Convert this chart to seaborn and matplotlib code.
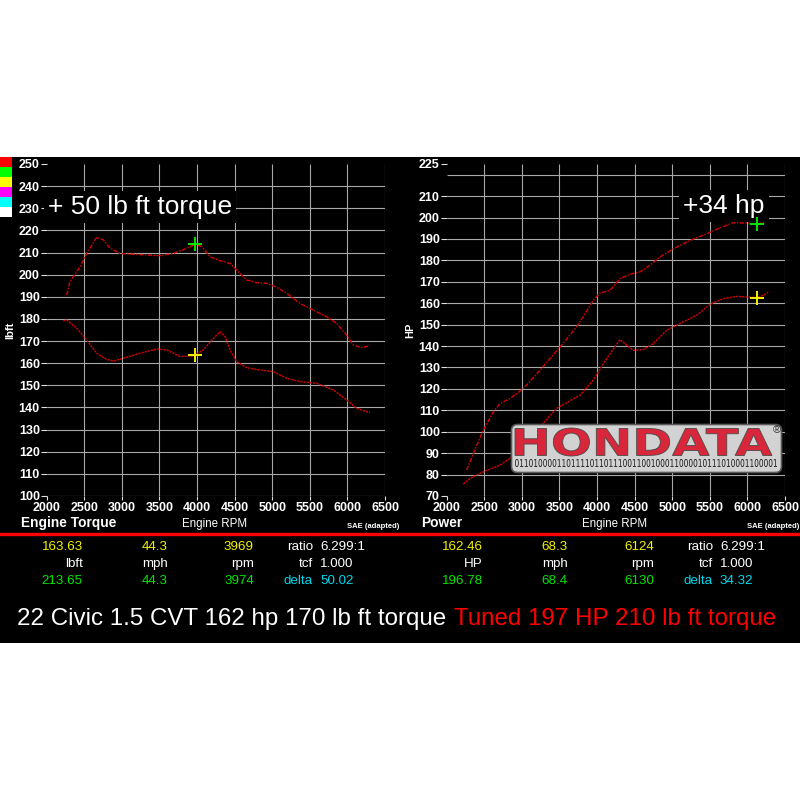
import matplotlib
matplotlib.use("Agg")
import pandas as pd
import matplotlib.pyplot as plt
import seaborn as sns
from matplotlib.patches import Rectangle, FancyBboxPatch, PathPatch
from matplotlib.textpath import TextPath
from matplotlib.font_manager import FontProperties
from matplotlib.transforms import Affine2D

# dyno runs
tq_tuned_rpm = [2266, 2310, 2443, 2532, 2665, 2754, 2842, 2975, 3153, 3507, 3685, 3862, 3974, 4062,
                4172, 4305, 4438, 4527, 4660, 4793, 4926, 5059, 5192, 5369, 5547, 5724, 5857, 5990,
                6079, 6167, 6256, 6300]
tq_tuned = [190.8, 196.8, 203.6, 209.6, 216.9, 215.7, 212.0, 209.6, 209.2, 208.6, 209.6, 211.9, 213.7,
            212.7, 208.1, 206.3, 205.1, 202.1, 197.6, 196.4, 196.1, 194.3, 191.6, 187.0, 184.0, 181.0,
            178.0, 172.7, 168.2, 167.2, 167.5, 168.2]
tq_stock_rpm = [2222, 2266, 2399, 2532, 2665, 2798, 2887, 3020, 3241, 3463, 3596, 3773, 3951, 4084,
                4217, 4305, 4372, 4438, 4527, 4660, 4837, 5015, 5192, 5369, 5591, 5813, 5990, 6123,
                6256, 6300]
tq_stock = [179.2, 179.5, 175.8, 170.5, 164.5, 161.7, 161.0, 162.2, 164.5, 166.4, 166.0, 163.0, 163.3,
            166.0, 171.2, 174.2, 172.0, 166.0, 160.7, 158.0, 156.9, 156.2, 153.2, 151.7, 150.9, 147.9,
            143.4, 139.6, 138.1, 137.7]

hp_tuned_rpm = [2266, 2355, 2488, 2621, 2709, 2842, 3020, 3241, 3507, 3729, 3951, 4039, 4172, 4305,
                4438, 4571, 4704, 4837, 5015, 5236, 5458, 5635, 5813, 5990, 6123, 6212, 6256]
hp_tuned = [82.1, 89.9, 100.8, 109.3, 113.2, 115.5, 120.2, 128.7, 139.6, 148.9, 161.4, 164.8, 166.0,
            171.5, 173.5, 174.6, 177.7, 181.6, 185.4, 189.3, 192.4, 195.2, 197.6, 197.4, 196.8, 197.9,
            199.4]
hp_stock_rpm = [2222, 2310, 2488, 2709, 2842, 3020, 3241, 3463, 3773, 3951, 4128, 4305, 4394, 4483,
                4616, 4749, 4926, 5148, 5325, 5502, 5680, 5857, 5990, 6123, 6212, 6278]
hp_stock = [75.6, 78.2, 81.3, 84.4, 87.6, 94.5, 102.3, 110.9, 117.1, 124.1, 134.2, 143.0, 140.4, 138.0,
            138.4, 141.2, 147.4, 151.3, 154.4, 159.5, 162.1, 163.2, 162.9, 162.6, 163.7, 165.2]

# cursor points
tq_cursor_rpm = [3974, 3969]
tq_cursor = [213.65, 163.63]
hp_cursor_rpm = [6130, 6124]
hp_cursor = [196.78, 162.46]

rpm_ticks = list(range(2000, 6501, 500))
tq_ticks = list(range(100, 251, 10))
tq_grid = list(range(100, 241, 10))
hp_ticks = list(range(70, 211, 10)) + [225]
hp_grid = list(range(70, 221, 10))

# readout rows under each chart
tq_readout = [["163.63", "44.3", "3969", "ratio", "6.299:1"],
              ["lbft", "mph", "rpm", "tcf", "1.000"],
              ["213.65", "44.3", "3974", "delta", "50.02"]]
hp_readout = [["162.46", "68.3", "6124", "ratio", "6.299:1"],
              ["HP", "mph", "rpm", "tcf", "1.000"],
              ["196.78", "68.4", "6130", "delta", "34.32"]]

swatch_colors = ["#ff0000", "#00ff00", "#ffff00", "#ff00ff", "#00ffff", "#ffffff"]

RED = "#d40000"
GRID = "#a8a8a8"
YEL = "#f2f200"
GRN = "#00e600"
CYA = "#00d8f0"

sns.set_theme(style="dark")
plt.rcParams["font.family"] = ["Liberation Sans", "DejaVu Sans"]

fig = plt.figure(figsize=(8, 8), dpi=100, facecolor="white")
W = H = 800.0


def fx(px):
    return px / W


def fy(py):
    return 1 - py / H


# black panel behind everything
fig.patches.append(Rectangle((0, fy(643)), 1, (643 - 157) / H, transform=fig.transFigure,
                             facecolor="black", edgecolor="none", zorder=-5))
for i, c in enumerate(swatch_colors):
    fig.patches.append(Rectangle((0, fy(157 + 10 * (i + 1))), 12 / W, 10 / H,
                                 transform=fig.transFigure, facecolor=c, edgecolor="none", zorder=-4))


def make_axes(left_px, ylo, yhi, ygrid):
    ax = fig.add_axes([fx(left_px), fy(496), 338.3 / W, 332 / H])
    ax.set_facecolor("none")
    for s in ax.spines.values():
        s.set_visible(False)
    ax.grid(False)
    ax.hlines(ygrid, 2000, 6500, color=GRID, lw=0.8, zorder=1)
    ax.vlines(rpm_ticks[1:], ylo, yhi, color=GRID, lw=0.8, zorder=1)
    return ax


def finish_axes(ax, ylo, yhi, yticks):
    ax.set_xlim(2000, 6500)
    ax.set_ylim(ylo, yhi)
    ax.set_xticks(rpm_ticks)
    ax.set_yticks(yticks)
    ax.set_xlabel("")
    ax.set_ylabel("")
    ax.tick_params(axis="x", bottom=True, colors="#dddddd", labelcolor="white", labelsize=9,
                   length=3, width=0.8, pad=1.5)
    ax.tick_params(axis="y", left=True, colors="#dddddd", labelcolor="white", labelsize=9,
                   length=4.5, width=0.8, pad=0.5)
    for lab in ax.get_xticklabels() + ax.get_yticklabels():
        lab.set_fontweight("bold")


def draw_runs(ax, rpm_a, val_a, rpm_b, val_b, cur_rpm, cur_val):
    sns.lineplot(x=rpm_a, y=val_a, ax=ax, color=RED, lw=1.05, linestyle=(0, (3, 1, 1, 1)),
                 estimator=None, sort=False, zorder=3)
    sns.lineplot(x=rpm_b, y=val_b, ax=ax, color=RED, lw=1.05, linestyle=(0, (1.5, 0.7)),
                 estimator=None, sort=False, zorder=3)
    sns.scatterplot(x=cur_rpm[:1], y=cur_val[:1], ax=ax, marker="+", s=110, color=GRN,
                    linewidth=1.4, zorder=5)
    sns.scatterplot(x=cur_rpm[1:], y=cur_val[1:], ax=ax, marker="+", s=110, color=YEL,
                    linewidth=1.4, zorder=5)


ax_tq = make_axes(46.7, 100, 250, tq_grid)
draw_runs(ax_tq, tq_tuned_rpm, tq_tuned, tq_stock_rpm, tq_stock, tq_cursor_rpm, tq_cursor)
finish_axes(ax_tq, 100, 250, tq_ticks)
ax_tq.text(0.004, 0.870, "+ 50 lb ft torque", transform=ax_tq.transAxes, color="white",
           fontsize=19, va="center", ha="left", zorder=4,
           bbox=dict(facecolor="black", edgecolor="none", pad=3))

ax_hp = make_axes(446.7, 70, 225, hp_grid)
draw_runs(ax_hp, hp_tuned_rpm, hp_tuned, hp_stock_rpm, hp_stock, hp_cursor_rpm, hp_cursor)
finish_axes(ax_hp, 70, 225, hp_ticks)
ax_hp.text(0.6985, 0.873, "+34 hp", transform=ax_hp.transAxes, color="white",
           fontsize=19, va="center", ha="left", zorder=4,
           bbox=dict(facecolor="black", edgecolor="none", pad=3))

fig.text(fx(10), fy(330), "lbft", color="white", fontsize=8, fontweight="bold",
         rotation=90, ha="center", va="center")
fig.text(fx(410), fy(330), "HP", color="white", fontsize=8, fontweight="bold",
         rotation=90, ha="center", va="center")

# HONDATA logo
lax = fig.add_axes([fx(510), fy(474), 273 / W, 51 / H], zorder=10)
lax.set_xlim(0, 273)
lax.set_ylim(0, 51)
lax.axis("off")
lax.add_patch(FancyBboxPatch((1.5, 1.5), 270, 48, boxstyle="round,pad=0,rounding_size=6",
                             facecolor="#d2d2d2", edgecolor="#5a5a5a", lw=1.2))


def fit_text(ax, s, x0, y0, x1, y1, weight="bold", **kw):
    tp = TextPath((0, 0), s, size=10, prop=FontProperties(family="DejaVu Sans", weight=weight))
    ext = tp.get_extents()
    tr = Affine2D().translate(-ext.x0, -ext.y0).scale((x1 - x0) / ext.width,
                                                      (y1 - y0) / ext.height).translate(x0, y0)
    ax.add_patch(PathPatch(tr.transform_path(tp), **kw))


fit_text(lax, "HONDATA", 5, 18, 262, 46, facecolor="#d8263a", edgecolor="#4a4a4a", lw=0.6)
binary = "".join(format(ord(ch), "08b") for ch in "hondata")
fit_text(lax, binary, 5, 7, 267, 15, weight="normal", facecolor="#1a1a1a", edgecolor="none")
lax.text(267, 44, "®", fontsize=8, color="#333333", ha="center", va="center")

# captions under the charts
for off, name in [(0, "Engine Torque"), (400, "Power")]:
    fig.text(fx(21 + off), fy(527), name, color="white", fontsize=9.9, fontweight="bold",
             ha="left", va="baseline")
    fig.text(fx(215 + off), fy(527), "Engine RPM", color="white", fontsize=8.3,
             ha="center", va="baseline")
    fig.text(fx(399 + off), fy(528), "SAE (adapted)", color="white", fontsize=5.5,
             fontweight="bold", ha="right", va="baseline")

fig.add_artist(plt.Line2D([0, 1], [fy(534), fy(534)], transform=fig.transFigure,
                          color="#ff0000", lw=2.4))

row_base = [549.5, 567, 584.5]
row_colors = [[YEL, YEL, YEL, "white", "white"],
              ["white"] * 5,
              [GRN, GRN, GRN, CYA, CYA]]
col_right = [83, 168, 254, 313]
for off, rows in [(0, tq_readout), (400, hp_readout)]:
    for r, vals in enumerate(rows):
        for c, v in enumerate(vals):
            if c < 4:
                fig.text(fx(col_right[c] + off), fy(row_base[r]), v, color=row_colors[r][c],
                         fontsize=9.6, ha="right", va="baseline")
            else:
                fig.text(fx(320 + off), fy(row_base[r]), v, color=row_colors[r][c],
                         fontsize=9.6, ha="left", va="baseline")

t1 = fig.text(fx(17), fy(625), "22 Civic 1.5 CVT 162 hp 170 lb ft torque", color="white",
              fontsize=17.4, ha="left", va="baseline")
bb = t1.get_window_extent(fig.canvas.get_renderer())
fig.text((bb.x1 + 8) / W, fy(625), "Tuned 197 HP 210 lb ft torque", color="#ff0000",
         fontsize=17.4, ha="left", va="baseline")

fig.savefig("out.png", dpi=100, facecolor="white")
